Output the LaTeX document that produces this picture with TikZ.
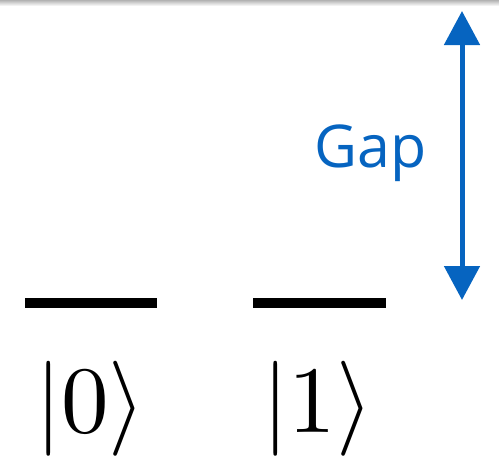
\documentclass[tikz,border=0pt]{standalone}
\usepackage{fontspec}
\newfontfamily\gapfont{Open Sans}
\usepackage{tikz}
\usetikzlibrary{arrows.meta,positioning}
\definecolor{gapblue}{RGB}{6,100,192}
\tikzset{
  level/.style={line width=10pt,black},
  ket/.style={inner sep=0pt,font=\fontsize{10}{12}\selectfont,scale=9.5},
  gaparrow/.style={{Triangle[length=34pt,width=35pt]}-{Triangle[length=34pt,width=35pt]},line width=5pt,gapblue},
  gaplbl/.style={inner sep=0pt,anchor=base west,text=gapblue,font=\gapfont\fontsize{59}{60}\selectfont}
}
\begin{document}
\begin{tikzpicture}[x=1pt,y=1pt]
\useasboundingbox (0,0) rectangle (499,-456);
\shade[top color=gray!60,bottom color=white] (0,0) rectangle (499,-6);
\coordinate (L0) at (25,-303);
\coordinate (R0) at (157,-303);
\coordinate (L1) at (253,-303);
\coordinate (R1) at (386,-303);
\draw[level] (L0)--(R0);
\draw[level] (L1)--(R1);
\node[ket] (k0) at (90.5,-409) {$|0\rangle$};
\node[ket] (k1) at (318,-409) {$|1\rangle$};
\coordinate (top) at (462,-11);
\coordinate (bot) at (462,-300);
\draw[gaparrow] (top)--(bot);
\node[gaplbl] (gap) at (314.5,-167) {Gap};
\end{tikzpicture}
\end{document}
